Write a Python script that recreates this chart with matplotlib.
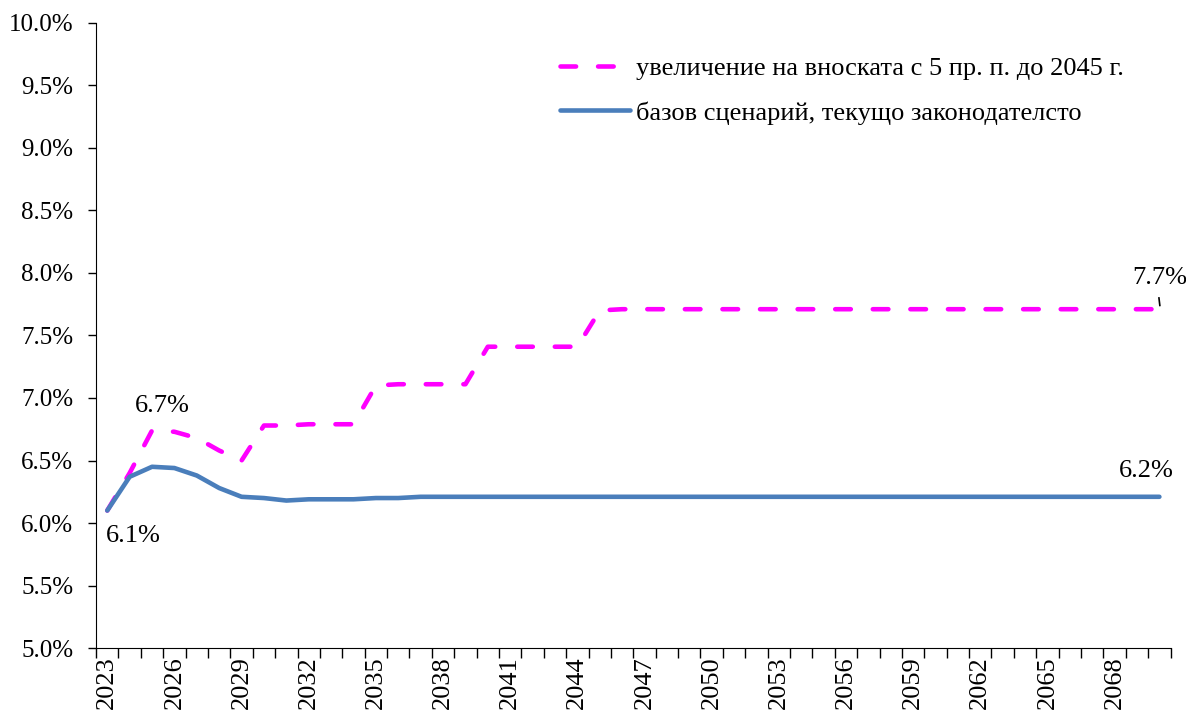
import numpy as np
import matplotlib.pyplot as plt
from matplotlib.ticker import FuncFormatter

years = list(range(2023, 2071))

# базов сценарий
base = [6.10, 6.37, 6.45, 6.44, 6.38, 6.28, 6.21, 6.20, 6.18, 6.19,
        6.19, 6.19, 6.20, 6.20, 6.21] + [6.21] * 33

# увеличение на вноската
higher = [6.10, 6.40, 6.74, 6.73, 6.68, 6.58, 6.50, 6.78, 6.78, 6.79,
          6.79, 6.79, 7.10, 7.11, 7.11, 7.11, 7.11, 7.41, 7.41, 7.41,
          7.41, 7.41, 7.70] + [7.71] * 25

labels = ['увеличение на вноската с 5 пр. п. до 2045 г.',
          'базов сценарий, текущо законодателсто']

plt.rcParams['font.family'] = ['Liberation Serif', 'DejaVu Serif']

fig, ax = plt.subplots(figsize=(11.86, 7.13), dpi=100)
fig.subplots_adjust(left=0.081, right=0.987, bottom=0.091, top=0.968)

x = np.arange(len(years))
ax.plot(x, higher, color='#ff00ff', lw=3.3, dashes=(3.4, 4.8),
        dash_capstyle='round', label=labels[0])
ax.plot(x, base, color='#4a7ebb', lw=3.3, solid_capstyle='round',
        label=labels[1])

ax.set_ylim(5.0, 10.0)
ax.set_yticks(np.arange(5.0, 10.01, 0.5))
ax.yaxis.set_major_formatter(FuncFormatter(lambda v, p: f'{v:.1f}%'))
ax.set_xlim(-0.5, len(years) - 0.5)
ax.set_xticks(x[::3])
ax.set_xticklabels([str(y) for y in years[::3]], rotation=90)
ax.set_xticks(np.arange(-0.5, len(years)), minor=True)
ax.tick_params(axis='x', which='major', length=0, pad=6, labelsize=19)
ax.tick_params(axis='x', which='minor', length=7, width=1)
ax.tick_params(axis='y', length=6, width=1, labelsize=18, pad=10.5)

for s in ['top', 'right']:
    ax.spines[s].set_visible(False)

# подписи на данните
ax.text(1.15, 5.90, '6.1%', fontsize=19, ha='center', va='center')
ax.text(2.45, 6.94, '6.7%', fontsize=19, ha='center', va='center')
ax.text(46.4, 6.42, '6.2%', fontsize=19, ha='center', va='center')
ax.text(47.0, 7.96, '7.7%', fontsize=19, ha='center', va='center')
ax.plot([len(years) - 1 + 0.02, len(years) - 1 - 0.02], [7.74, 7.80],
        color='black', lw=1.2)

ax.legend(loc='upper left', bbox_to_anchor=(560 / 1186, 1 - 57 / 713),
          bbox_transform=fig.transFigure, frameon=False, fontsize=19,
          handlelength=2.65, handletextpad=0.23, labelspacing=0.78,
          borderpad=0, borderaxespad=0)

fig.savefig('out.png', dpi=100)
